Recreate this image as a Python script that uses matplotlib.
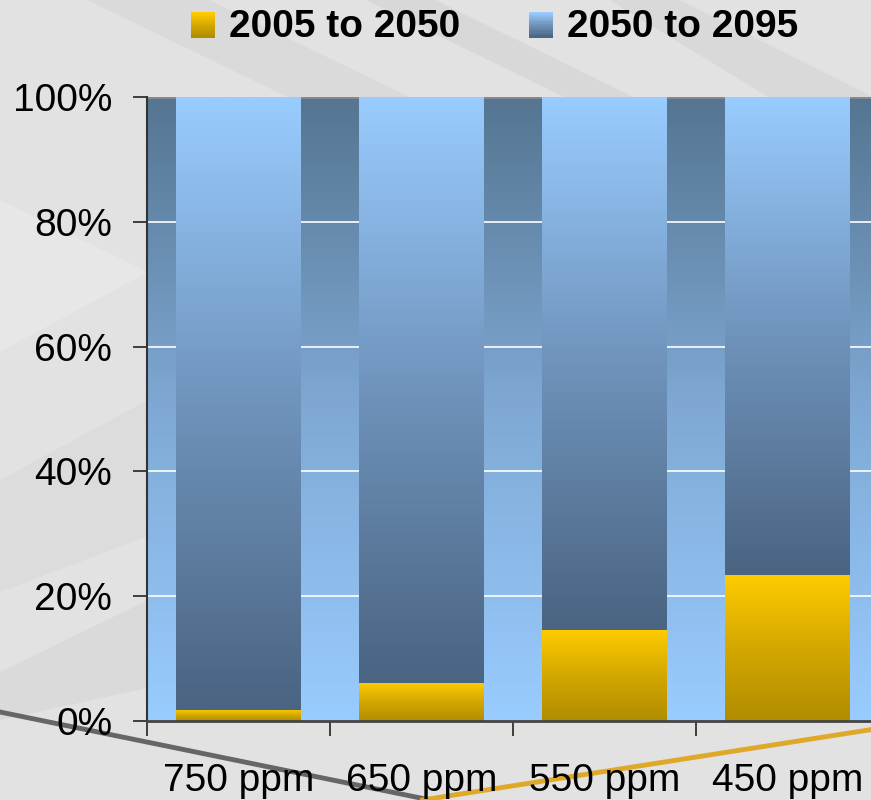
import numpy as np
import matplotlib
matplotlib.use("Agg")
import matplotlib.pyplot as plt
from matplotlib.colors import LinearSegmentedColormap
from matplotlib.patches import Rectangle, Polygon
from matplotlib.legend_handler import HandlerBase

plt.rcParams['font.family'] = ['Liberation Sans', 'DejaVu Sans']

categories = ['750 ppm', '650 ppm', '550 ppm', '450 ppm']
early = [1.8, 6.1, 14.6, 23.4]          # 2005 to 2050
late = [100 - v for v in early]         # 2050 to 2095
series_names = ['2005 to 2050', '2050 to 2095']
yticks = [0, 20, 40, 60, 80, 100]

gold_cmap = LinearSegmentedColormap.from_list('gold', ['#b08c00', '#d4a800', '#ffcc00'])
blue_cmap = LinearSegmentedColormap.from_list('blue', ['#4a6482', '#6f93bb', '#99ccff'])
bg_cmap = LinearSegmentedColormap.from_list('bg', ['#99ccff', '#7fa9d4', '#557591'])

fig = plt.figure(figsize=(8.71, 8.0), dpi=100)
fig.patch.set_facecolor('#e2e2e2')

# faint diagonal bands in the slide background
bands = [
    ([(0.10, 1.0), (0.24, 1.0), (0.62, 0.80), (0.48, 0.80)], '#dadada'),
    ([(0.42, 1.0), (0.50, 1.0), (0.80, 0.84), (0.72, 0.84)], '#d8d8d8'),
    ([(0.70, 1.0), (0.78, 1.0), (1.0, 0.88), (1.0, 0.80)], '#d9d9d9'),
    ([(0.0, 0.75), (0.17, 0.66), (0.0, 0.56)], '#e7e7e7'),
    ([(0.0, 0.40), (0.17, 0.50), (0.17, 0.33), (0.0, 0.26)], '#dcdcdc'),
    ([(0.0, 0.16), (0.17, 0.25), (0.17, 0.14), (0.0, 0.10)], '#dadada'),
]
for b, c in bands:
    fig.patches.append(Polygon(b, closed=True, transform=fig.transFigure,
                               facecolor=c, edgecolor='none', zorder=0))
fig.lines.append(plt.Line2D([0.0, 0.494], [0.11, 0.0], transform=fig.transFigure,
                            color='#666666', lw=3.5, zorder=0.5))
fig.lines.append(plt.Line2D([0.485, 1.0], [0.0, 0.088], transform=fig.transFigure,
                            color='#e0a828', lw=3.5, zorder=0.5))

ax = fig.add_axes([147 / 871, 79 / 800, 732 / 871, 624 / 800])
ax.set_zorder(2)
ax.set_facecolor('none')
x = np.arange(len(categories))

# plot area gradient (dark at top, light at bottom)
grad = np.linspace(0, 1, 256).reshape(-1, 1)
ax.imshow(grad, cmap=bg_cmap, aspect='auto', origin='lower',
          extent=(-0.5, len(categories) - 0.5, 0, 100), zorder=0)
for t in yticks[1:-1]:
    ax.axhline(t, color='white', lw=1.2, zorder=0.5)
ax.axhline(100, color='#8a8a8a', lw=2, zorder=0.6)

w = 0.68
b1 = ax.bar(x, early, width=w, color='none', zorder=2)
b2 = ax.bar(x, late, bottom=early, width=w, color='none', zorder=2)
for bars, cmap in ((b1, gold_cmap), (b2, blue_cmap)):
    for p in bars:
        x0, y0 = p.get_x(), p.get_y()
        ax.imshow(grad, cmap=cmap, aspect='auto', origin='lower',
                  extent=(x0, x0 + p.get_width(), y0, y0 + p.get_height()), zorder=2)
ax.set_xlim(-0.5, len(categories) - 0.5)
ax.set_ylim(0, 100)

ax.set_yticks(yticks)
ax.set_yticklabels([f'{t}%' for t in yticks], fontsize=28)
ax.set_xticks(x)
ax.set_xticklabels(categories, fontsize=28)
ax.set_xticks(np.arange(len(categories) + 1) - 0.5, minor=True)
ax.tick_params(axis='x', which='major', length=0, pad=30)
ax.tick_params(axis='x', which='minor', length=11, width=1.2, color='#222222')
ax.tick_params(axis='y', length=10, width=1.2, color='#222222', pad=15)
for s in ('top', 'right'):
    ax.spines[s].set_visible(False)
ax.spines['left'].set_color('#333333')
ax.spines['left'].set_linewidth(1.5)
ax.spines['bottom'].set_color('#444444')
ax.spines['bottom'].set_linewidth(2)
ax.spines['left'].set_zorder(3)
ax.spines['bottom'].set_zorder(3)


class GradientHandler(HandlerBase):
    def __init__(self, cmap):
        super().__init__()
        self.cmap = cmap

    def create_artists(self, legend, orig_handle, xdescent, ydescent,
                       width, height, fontsize, trans):
        n = 20
        side_w = width
        side_h = height * 0.95
        x0 = -xdescent
        y0 = -ydescent - (side_h - height) / 2 - 1
        arts = []
        for i in range(n):
            arts.append(Rectangle((x0, y0 + side_h * i / n), side_w, side_h / n + 0.3,
                                  facecolor=self.cmap(i / (n - 1)), edgecolor='none',
                                  transform=trans))
        return arts


h1 = Rectangle((0, 0), 1, 1)
h2 = Rectangle((0, 0), 1, 1)
fig.legend([h1, h2], series_names, loc='center', bbox_to_anchor=(0.568, 0.966),
           ncol=2, frameon=False, handler_map={h1: GradientHandler(gold_cmap),
                                               h2: GradientHandler(blue_cmap)},
           prop={'weight': 'bold', 'size': 28}, handlelength=0.62, handletextpad=0.36,
           columnspacing=1.75)

fig.savefig('out.png', dpi=100, facecolor=fig.get_facecolor())
